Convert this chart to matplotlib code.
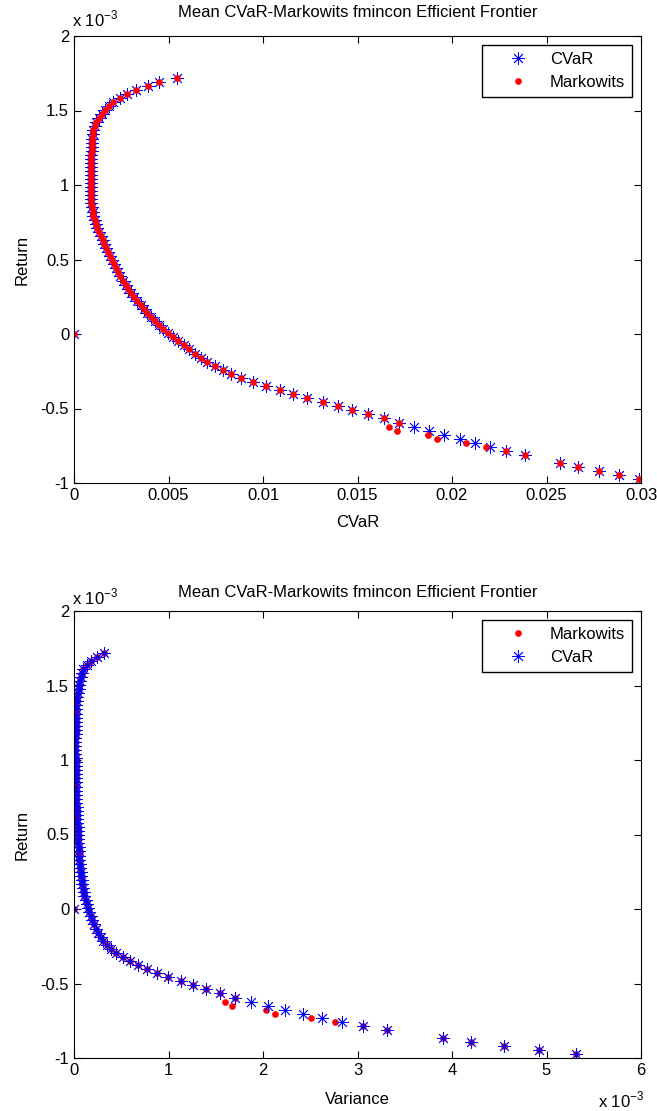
import matplotlib
matplotlib.use("Agg")
import matplotlib.pyplot as plt
from matplotlib.ticker import FormatStrFormatter, MultipleLocator

plt.rcParams['font.family'] = ['Liberation Sans', 'DejaVu Sans']
plt.rcParams['mathtext.fontset'] = 'custom'
plt.rcParams['mathtext.rm'] = 'Liberation Sans'
plt.rcParams['font.size'] = 12

# target returns (x 1e-3); the 6th point failed and came back as (0, 0)
returns = [
    -0.976, -0.949, -0.922, -0.894, -0.867, 0.0, -0.813, -0.785, -0.758, -0.731,
    -0.704, -0.676, -0.649, -0.622, -0.595, -0.567, -0.540, -0.513, -0.486, -0.458,
    -0.431, -0.404, -0.377, -0.349, -0.322, -0.295, -0.268, -0.241, -0.213, -0.186,
    -0.159, -0.132, -0.104, -0.077, -0.050, -0.023, 0.005, 0.032, 0.059, 0.086,
    0.114, 0.141, 0.168, 0.195, 0.223, 0.250, 0.277, 0.304, 0.332, 0.359,
    0.386, 0.413, 0.440, 0.468, 0.495, 0.522, 0.549, 0.577, 0.604, 0.631,
    0.658, 0.686, 0.713, 0.740, 0.767, 0.795, 0.822, 0.849, 0.876, 0.903,
    0.931, 0.958, 0.985, 1.012, 1.040, 1.067, 1.094, 1.121, 1.149, 1.176,
    1.203, 1.230, 1.258, 1.285, 1.312, 1.339, 1.366, 1.394, 1.421, 1.448,
    1.475, 1.503, 1.530, 1.557, 1.584, 1.612, 1.639, 1.666, 1.693, 1.721,
]

# CVaR of the CVaR-optimal portfolios
cvar_cvar = [
    0.02989, 0.02883, 0.02779, 0.02668, 0.02573, 0.0, 0.02386, 0.02286, 0.02203, 0.02120,
    0.02044, 0.01959, 0.01878, 0.01799, 0.01721, 0.01642, 0.01557, 0.01473, 0.01398, 0.01316,
    0.01231, 0.01160, 0.01088, 0.01016, 0.00948, 0.00885, 0.00832, 0.00788, 0.00745, 0.00706,
    0.00671, 0.00638, 0.00609, 0.00580, 0.00551, 0.00523, 0.00496, 0.00471, 0.00448, 0.00426,
    0.00406, 0.00387, 0.00369, 0.00352, 0.00335, 0.00319, 0.00303, 0.00288, 0.00273, 0.00259,
    0.00246, 0.00233, 0.00221, 0.00210, 0.00199, 0.00189, 0.00179, 0.00169, 0.00160, 0.00151,
    0.00142, 0.00133, 0.00124, 0.00116, 0.00109, 0.00103, 0.00098, 0.00094, 0.00091, 0.00089,
    0.00088, 0.00088, 0.00088, 0.00088, 0.00088, 0.00089, 0.00089, 0.00090, 0.00090, 0.00091,
    0.00092, 0.00093, 0.00094, 0.00095, 0.00097, 0.00099, 0.00103, 0.00109, 0.00118, 0.00130,
    0.00146, 0.00165, 0.00187, 0.00208, 0.00245, 0.00279, 0.00328, 0.00390, 0.00450, 0.00547,
]

# CVaR of the Markowitz portfolios
cvar_markowitz = [
    0.02989, 0.02883, 0.02779, 0.02668, 0.02573, 0.0, 0.02386, 0.02286, 0.02180, 0.02074,
    0.01922, 0.01875, 0.01709, 0.01668, 0.01721, 0.01642, 0.01557, 0.01473, 0.01398, 0.01316,
    0.01231, 0.01160, 0.01088, 0.01016, 0.00948, 0.00885, 0.00832, 0.00788, 0.00745, 0.00706,
    0.00671, 0.00638, 0.00609, 0.00580, 0.00551, 0.00523, 0.00496, 0.00471, 0.00448, 0.00426,
    0.00406, 0.00387, 0.00369, 0.00352, 0.00335, 0.00319, 0.00303, 0.00288, 0.00273, 0.00259,
    0.00246, 0.00233, 0.00221, 0.00210, 0.00199, 0.00189, 0.00179, 0.00169, 0.00160, 0.00151,
    0.00142, 0.00133, 0.00124, 0.00116, 0.00109, 0.00103, 0.00098, 0.00094, 0.00091, 0.00089,
    0.00088, 0.00088, 0.00088, 0.00088, 0.00088, 0.00089, 0.00089, 0.00090, 0.00090, 0.00091,
    0.00092, 0.00093, 0.00094, 0.00095, 0.00097, 0.00099, 0.00103, 0.00109, 0.00118, 0.00130,
    0.00146, 0.00165, 0.00187, 0.00208, 0.00245, 0.00279, 0.00328, 0.00390, 0.00450, 0.00547,
]

# variance (x 1e-3) of the CVaR-optimal portfolios
var_cvar = [
    5.309, 4.917, 4.550, 4.201, 3.901, 0.0, 3.315, 3.055, 2.840, 2.621,
    2.427, 2.233, 2.056, 1.873, 1.704, 1.548, 1.395, 1.260, 1.128, 0.995,
    0.875, 0.772, 0.682, 0.592, 0.515, 0.448, 0.390, 0.348, 0.312, 0.283,
    0.257, 0.234, 0.213, 0.195, 0.177, 0.162, 0.147, 0.134, 0.122, 0.111,
    0.102, 0.094, 0.087, 0.081, 0.075, 0.070, 0.066, 0.062, 0.058, 0.055,
    0.052, 0.049, 0.046, 0.044, 0.042, 0.040, 0.038, 0.036, 0.034, 0.032,
    0.030, 0.028, 0.026, 0.025, 0.024, 0.023, 0.022, 0.021, 0.020, 0.019,
    0.018, 0.017, 0.016, 0.016, 0.015, 0.015, 0.015, 0.015, 0.015, 0.016,
    0.016, 0.017, 0.018, 0.019, 0.021, 0.023, 0.026, 0.030, 0.035, 0.042,
    0.050, 0.056, 0.063, 0.071, 0.081, 0.095, 0.134, 0.180, 0.243, 0.321,
]

# variance (x 1e-3) of the Markowitz portfolios
var_markowitz = [
    5.309, 4.917, 4.550, 4.201, 3.901, 0.0, 3.315, 3.055, 2.762, 2.505,
    2.130, 2.030, 1.669, 1.600, 1.704, 1.548, 1.395, 1.260, 1.128, 0.995,
    0.875, 0.772, 0.682, 0.592, 0.515, 0.448, 0.390, 0.348, 0.312, 0.283,
    0.257, 0.234, 0.213, 0.195, 0.177, 0.162, 0.147, 0.134, 0.122, 0.111,
    0.102, 0.094, 0.087, 0.081, 0.075, 0.070, 0.066, 0.062, 0.058, 0.055,
    0.052, 0.049, 0.046, 0.044, 0.042, 0.040, 0.038, 0.036, 0.034, 0.032,
    0.030, 0.028, 0.026, 0.025, 0.024, 0.023, 0.022, 0.021, 0.020, 0.019,
    0.018, 0.017, 0.016, 0.016, 0.015, 0.015, 0.015, 0.015, 0.015, 0.016,
    0.016, 0.017, 0.018, 0.019, 0.021, 0.023, 0.026, 0.030, 0.035, 0.042,
    0.050, 0.056, 0.063, 0.071, 0.081, 0.095, 0.134, 0.180, 0.243, 0.321,
]

title = 'Mean CVaR-Markowits fmincon Efficient Frontier'

W, H = 657, 1111
fig = plt.figure(figsize=(W / 100, H / 100), dpi=100)

star = dict(linestyle='none', marker=(8, 2, 0), color='b', markersize=9, markeredgewidth=0.6)
dot = dict(linestyle='none', marker='o', color='r', markersize=4.8, markeredgewidth=0)
leg_opts = dict(loc='upper right', fancybox=False, edgecolor='black', framealpha=1,
                handlelength=3.6, handletextpad=0.1, borderpad=0.4, labelspacing=0.5,
                borderaxespad=0.55)


def style_axes(ax, title_pad):
    ax.tick_params(direction='in', top=True, right=True, length=5, width=0.8, labelsize=12)
    for s in ax.spines.values():
        s.set_linewidth(0.8)
    ax.yaxis.set_major_locator(MultipleLocator(0.5))
    ax.yaxis.set_major_formatter(FormatStrFormatter('%g'))
    ax.set_ylim(-1, 2)
    ax.set_ylabel('Return', labelpad=8)
    ax.set_title(title, fontsize=12, pad=title_pad)


# top: CVaR frontier
ax1 = fig.add_axes([74 / W, 1 - 483 / H, 567 / W, 447 / H])
ax1.plot(cvar_cvar, returns, label='CVaR', **star)
ax1.plot(cvar_markowitz, returns, label='Markowits', **dot)
ax1.set_xlim(0, 0.03)
ax1.xaxis.set_major_locator(MultipleLocator(0.005))
ax1.xaxis.set_major_formatter(FormatStrFormatter('%g'))
ax1.set_xlabel('CVaR', labelpad=9)
style_axes(ax1, 14)
ax1.legend(**leg_opts)
fig.text(72 / W, 1 - 19 / H, r'x 10$^{-3}$', ha='left', va='center', fontsize=12)

# bottom: variance frontier
ax2 = fig.add_axes([74 / W, 1 - 1058 / H, 567 / W, 447 / H])
ax2.plot(var_markowitz, returns, label='Markowits', **dot)
ax2.plot(var_cvar, returns, label='CVaR', **star)
ax2.set_xlim(0, 6)
ax2.xaxis.set_major_locator(MultipleLocator(1))
ax2.xaxis.set_major_formatter(FormatStrFormatter('%g'))
ax2.set_xlabel('Variance', labelpad=10)
style_axes(ax2, 10)
ax2.legend(**leg_opts)
fig.text(72 / W, 1 - 597 / H, r'x 10$^{-3}$', ha='left', va='center', fontsize=12)
fig.text(598 / W, 1 - 1100 / H, r'x 10$^{-3}$', ha='left', va='center', fontsize=12)

fig.savefig('out.png', dpi=100)
